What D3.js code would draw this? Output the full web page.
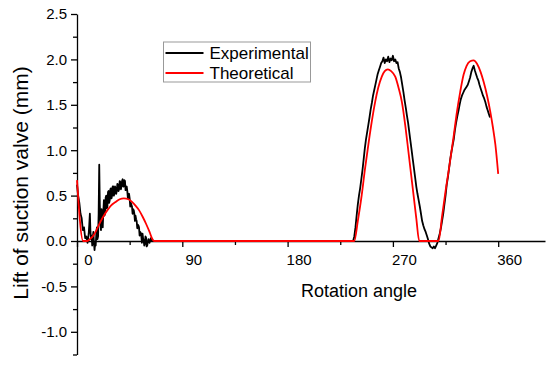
<!DOCTYPE html>
<html>
<head>
<meta charset="utf-8">
<script src="https://cdn.jsdelivr.net/npm/d3@7"></script>
<style>
  body { margin: 0; background: #fff; }
  svg { display: block; font-family: 'Liberation Sans', Arial, sans-serif; }
</style>
</head>
<body>
<div id="chart"></div>
<script>
// data
const xMajor = [0, 90, 180, 270, 360]
const xMinor = [45, 135, 225, 315]
const yMajor = [-1.0, -0.5, 0.0, 0.5, 1.0, 1.5, 2.0, 2.5]
const yMinor = [-1.25, -0.75, -0.25, 0.25, 0.75, 1.25, 1.75, 2.25]

const seriesNames = ['Experimental', 'Theoretical']

const theoAngle = [0, 5.2, 8.8, 11, 14.5, 17, 20, 23, 26, 29, 33, 36.5, 40, 44, 47, 50, 53, 56, 59, 62, 64.5, 66,
  237, 240, 243.4, 246, 249, 252, 254.8, 257.5, 260.5, 263, 265.7, 268.5, 272, 275, 277.7, 280.5, 283.3, 285.5, 287.6, 290, 292.5,
  309, 312, 315, 317, 319, 322, 324.7, 327.5, 330.4, 333, 336, 339, 342, 345, 347.6, 350.5, 353.3, 355.5, 357.6, 360]
const theoLift = [0.67, 0, 0, 0.02, 0.07, 0.13, 0.21, 0.28, 0.34, 0.39, 0.43, 0.46, 0.47, 0.46, 0.43, 0.39, 0.34, 0.27, 0.19, 0.1, 0.02, 0,
  0, 0.22, 0.51, 0.78, 1.06, 1.32, 1.53, 1.69, 1.81, 1.87, 1.89, 1.87, 1.81, 1.68, 1.53, 1.28, 0.98, 0.74, 0.51, 0.25, 0,
  0, 0.27, 0.55, 0.72, 0.89, 1.16, 1.42, 1.64, 1.83, 1.93, 1.98, 1.99, 1.95, 1.86, 1.75, 1.6, 1.42, 1.25, 1.06, 0.74]

const expAngle = [0, 1, 2, 3, 4, 5, 6, 7, 8, 9, 10,
  10.5, 11, 11.5, 12, 12.5, 13, 13.5, 14, 14.5, 15,
  15.5, 16, 16.5, 17, 17.5, 18, 18.5, 19, 19.5, 20,
  20.5, 21, 21.5, 22, 22.5, 23, 23.5, 24, 24.5, 25,
  25.5, 26, 26.5, 27, 27.5, 28, 28.5, 29, 29.5, 30,
  30.5, 31, 31.5, 32, 32.5, 33, 33.5, 34, 34.5, 35,
  35.5, 36, 36.5, 37, 37.5, 38, 38.5, 39, 39.5, 40,
  40.5, 41, 41.5, 42, 42.5, 43, 43.5, 44, 44.5, 45,
  45.5, 46, 46.5, 47, 47.5, 48, 48.5, 49, 49.5, 50,
  50.5, 51, 51.5, 52, 52.5, 53, 53.5, 54, 54.5, 55,
  55.5, 56, 56.5, 57, 57.5, 58, 58.5, 59, 59.5, 60,
  61, 62, 63, 64, 66, 236,
  237, 238, 239, 240, 241, 242, 243, 244, 245, 246, 247, 248, 249, 250, 251, 252, 253, 254, 255, 256,
  257, 258, 259, 260, 261, 262, 263, 264, 265, 266, 267, 268, 269, 270, 271, 272, 273, 274, 275, 276,
  277, 278, 279, 280, 281, 282, 283, 284, 285, 286, 287, 288, 289, 290, 291, 292, 293, 294, 295, 296,
  297, 298, 299, 300, 301, 302, 303, 304, 305, 306, 307, 308, 309, 310, 311, 312, 313, 314, 315, 316,
  317, 318, 319, 320, 321, 322, 323, 324, 325, 326, 327, 328, 329, 330, 331, 332, 333, 334, 335, 336,
  337, 338, 339, 340, 341, 342, 343, 344, 345, 346, 347, 348, 349, 350, 351, 352, 353]
const expLift = [0.62, 0.5, 0.42, 0.3, 0.25, 0.12, 0.15, 0.03, 0.05, -0.02, 0.08,
  0.18, 0.3, 0.1, 0.02, 0.06, -0.05, 0.04, 0.1, -0.02, -0.1,
  -0.02, -0.05, 0.08, 0.15, 0.02, 0.05, 0.3, 0.84, 0.4, 0.2,
  0.12, 0.35, 0.22, 0.15, 0.32, 0.45, 0.28, 0.3, 0.48, 0.5,
  0.36, 0.38, 0.54, 0.55, 0.42, 0.45, 0.57, 0.58, 0.47, 0.5,
  0.6, 0.6, 0.5, 0.52, 0.6, 0.58, 0.52, 0.55, 0.63, 0.62,
  0.55, 0.57, 0.66, 0.65, 0.57, 0.6, 0.66, 0.68, 0.6, 0.6,
  0.67, 0.66, 0.56, 0.58, 0.6, 0.55, 0.47, 0.5, 0.52, 0.47,
  0.38, 0.42, 0.4, 0.38, 0.3, 0.35, 0.34, 0.3, 0.22, 0.28,
  0.24, 0.22, 0.14, 0.18, 0.17, 0.15, 0.06, 0.1, 0.09, 0.05,
  -0.02, 0.08, 0.03, 0.0, -0.05, -0.03, 0.05, 0.04, -0.06, -0.05,
  0.02, -0.02, 0.03, 0, 0, 0,
  0.05, 0.15, 0.28, 0.4, 0.5, 0.58, 0.68, 0.78, 0.9, 1.02, 1.12, 1.2, 1.28, 1.36, 1.45, 1.52, 1.6, 1.66, 1.72, 1.78,
  1.84, 1.88, 1.92, 1.96, 1.98, 2.02, 1.96, 2.0, 1.98, 2.03, 1.97, 2.01, 1.99, 2.04, 1.98, 2.0, 1.96, 1.97, 1.9, 1.86,
  1.8, 1.72, 1.64, 1.55, 1.47, 1.38, 1.3, 1.2, 1.1, 1.0, 0.9, 0.8, 0.7, 0.6, 0.52, 0.45, 0.38, 0.3, 0.22, 0.17,
  0.13, 0.1, 0.06, 0.02, -0.03, -0.06, -0.07, -0.08, -0.06, -0.08, -0.05, -0.02, 0.03, 0.08, 0.14, 0.22, 0.3, 0.4, 0.5, 0.62,
  0.7, 0.8, 0.9, 0.98, 1.05, 1.12, 1.22, 1.3, 1.37, 1.43, 1.5, 1.56, 1.6, 1.63, 1.66, 1.68, 1.7, 1.72, 1.76, 1.8,
  1.86, 1.9, 1.93, 1.88, 1.84, 1.8, 1.77, 1.72, 1.68, 1.64, 1.6, 1.57, 1.53, 1.48, 1.44, 1.4, 1.36]

const width = 550
const height = 365
const fontFamily = "'Liberation Sans', Arial, sans-serif"

const svg = d3.select('#chart')
  .append('svg')
  .attr('width', width)
  .attr('height', height)

const x = d3.scaleLinear().domain([0, 400]).range([77, 545])
const y = d3.scaleLinear().domain([-1.25, 2.5]).range([354.5, 14])

// x axis sits on y = 0
const xAxisG = svg.append('g')
  .attr('class', 'x-axis')
  .attr('transform', 'translate(0,' + y(0) + ')')

xAxisG.call(d3.axisBottom(x).tickValues(xMinor).tickSize(4).tickSizeOuter(0).tickFormat(''))
xAxisG.append('g')
  .call(d3.axisBottom(x).tickValues(xMajor).tickSize(6).tickSizeOuter(0))
  .call(g => g.select('.domain').remove())
  .selectAll('text')
  .attr('dx', 11)
  .attr('dy', '1.0em')
  .style('font-size', '15px')
  .style('font-family', fontFamily)

const yAxisG = svg.append('g')
  .attr('class', 'y-axis')
  .attr('transform', 'translate(' + x(0) + ',0)')

yAxisG.call(d3.axisLeft(y).tickValues(yMinor).tickSize(4).tickSizeOuter(0).tickFormat(''))
yAxisG.append('g')
  .call(d3.axisLeft(y).tickValues(yMajor).tickSize(6).tickSizeOuter(0).tickFormat(d3.format('.1f')))
  .call(g => g.select('.domain').remove())
  .selectAll('text')
  .attr('dx', -1)
  .style('font-size', '15px')
  .style('font-family', fontFamily)

svg.selectAll('.domain, .tick line').attr('stroke', '#000').attr('stroke-width', 1.3)
svg.selectAll('.tick text').attr('fill', '#000').text(function () { return d3.select(this).text().replace('\u2212', '-') })

// lines
const line = d3.line()
  .x(d => x(d[0]))
  .y(d => y(d[1]))

const expData = expAngle.map((a, i) => [a, expLift[i]])
const theoData = theoAngle.map((a, i) => [a, theoLift[i]])

svg.append('path')
  .datum(expData)
  .attr('fill', 'none')
  .attr('stroke', '#000')
  .attr('stroke-width', 1.8)
  .attr('stroke-linejoin', 'round')
  .attr('d', line)

svg.append('path')
  .datum(theoData)
  .attr('fill', 'none')
  .attr('stroke', '#ff0000')
  .attr('stroke-width', 1.8)
  .attr('d', line.curve(d3.curveMonotoneX))

// axis titles
svg.append('text')
  .attr('x', 359)
  .attr('y', 297)
  .attr('text-anchor', 'middle')
  .style('font-size', '18px')
  .text('Rotation angle')

svg.append('text')
  .attr('transform', 'translate(28,183) rotate(-90)')
  .attr('text-anchor', 'middle')
  .style('font-size', '21px')
  .text('Lift of suction valve (mm)')

// legend
const legend = svg.append('g').attr('transform', 'translate(163.5,42)')
legend.append('rect')
  .attr('width', 147)
  .attr('height', 40)
  .attr('fill', '#fff')
  .attr('stroke', '#999')

const colors = ['#000', '#ff0000']
seriesNames.forEach((name, i) => {
  legend.append('line')
    .attr('x1', 2).attr('x2', 40)
    .attr('y1', 11 + i * 20).attr('y2', 11 + i * 20)
    .attr('stroke', colors[i])
    .attr('stroke-width', 2)
  legend.append('text')
    .attr('x', 46)
    .attr('y', 17 + i * 20)
    .style('font-size', '17px')
    .text(name)
})
</script>
</body>
</html>
